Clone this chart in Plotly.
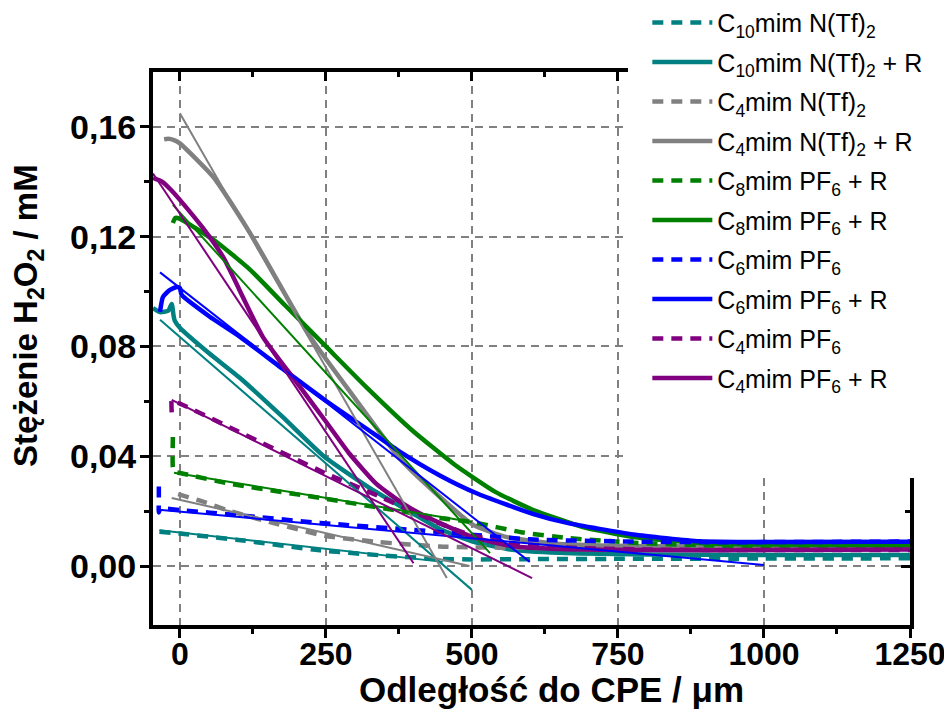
import plotly.graph_objects as go

# ---------------- data ----------------
# x: distance to CPE / um ; y: H2O2 concentration / mM
names = ["C<sub>10</sub>mim N(Tf)<sub>2</sub>",
         "C<sub>10</sub>mim N(Tf)<sub>2</sub> + R",
         "C<sub>4</sub>mim N(Tf)<sub>2</sub>",
         "C<sub>4</sub>mim N(Tf)<sub>2</sub> + R",
         "C<sub>8</sub>mim PF<sub>6</sub> + R",
         "C<sub>8</sub>mim PF<sub>6</sub> + R",
         "C<sub>6</sub>mim PF<sub>6</sub>",
         "C<sub>6</sub>mim PF<sub>6</sub> + R",
         "C<sub>4</sub>mim PF<sub>6</sub>",
         "C<sub>4</sub>mim PF<sub>6</sub> + R"]

x_c10 = [-35, 0, 100, 240, 350, 445, 500, 600, 750, 1000, 1250]
y_c10 = [0.0125, 0.0118, 0.0095, 0.0057, 0.0038, 0.0026, 0.0024, 0.0025, 0.0026, 0.0027, 0.0028]
fx_c10 = [-35, 450]
fy_c10 = [0.0130, 0.0015]

x_c10r = [-46, -34, -20, -14, -11, -9, 0, 50, 103, 175, 248, 330, 400, 445, 500, 560, 650, 800, 1000, 1250]
y_c10r = [0.0940, 0.0925, 0.0930, 0.0955, 0.0915, 0.0895, 0.0868, 0.0775, 0.0685, 0.0545, 0.0397, 0.0277, 0.0190, 0.0135, 0.0090, 0.0062, 0.0048, 0.0042, 0.0040, 0.0040]
fx_c10r = [-34, 500]
fy_c10r = [0.0897, -0.0087]

x_c4n = [-3, 46, 80, 159, 248, 342, 445, 500, 600, 800, 1000, 1250]
y_c4n = [0.0262, 0.0230, 0.0204, 0.0157, 0.0110, 0.0087, 0.0071, 0.0068, 0.0066, 0.0065, 0.0065, 0.0065]
fx_c4n = [-14, 496]
fy_c4n = [0.0248, 0.0000]

x_c4nr = [-27, -20, -10, 0, 57, 120, 223, 300, 377, 433, 502, 560, 650, 800, 1000, 1250]
y_c4nr = [0.1555, 0.1557, 0.1552, 0.1540, 0.1418, 0.1214, 0.0835, 0.0610, 0.0390, 0.0275, 0.0150, 0.0105, 0.0080, 0.0072, 0.0070, 0.0070]
fx_c4nr = [0, 457]
fy_c4nr = [0.1650, -0.0044]

x_c8 = [-12, -12, -9, 0, 85, 240, 377, 445, 500, 587, 663, 776, 900, 1000, 1250]
y_c8 = [0.0470, 0.0360, 0.0343, 0.0339, 0.0300, 0.0248, 0.0200, 0.0175, 0.0160, 0.0122, 0.0102, 0.0085, 0.0075, 0.0072, 0.0070]
fx_c8 = [-10, 500]
fy_c8 = [0.0340, 0.0160]

x_c8r = [-12, -8, 0, 60, 120, 180, 250, 320, 400, 470, 540, 604, 690, 776, 890, 1000, 1250]
y_c8r = [0.1250, 0.1268, 0.1265, 0.1185, 0.1080, 0.0950, 0.0800, 0.0650, 0.0490, 0.0370, 0.0270, 0.0205, 0.0142, 0.0106, 0.0084, 0.0078, 0.0076]
fx_c8r = [-12, 531]
fy_c8r = [0.1316, 0.0047]

x_c6 = [-36, -36, -36, -34, -30, 0, 100, 240, 445, 599, 776, 890, 1000, 1250]
y_c6 = [0.0290, 0.0255, 0.0195, 0.0208, 0.0210, 0.0204, 0.0185, 0.0157, 0.0124, 0.0097, 0.0089, 0.0087, 0.0087, 0.0089]
fx_c6 = [-36, 1000]
fy_c6 = [0.0205, 0.0004]

x_c6r = [-34, -29, -17, -5, 0, 3, 50, 103, 175, 248, 330, 377, 445, 508, 604, 663, 776, 890, 1000, 1250]
y_c6r = [0.0926, 0.0980, 0.1006, 0.1017, 0.1013, 0.0988, 0.0910, 0.0835, 0.0720, 0.0605, 0.0485, 0.0416, 0.0330, 0.0265, 0.0190, 0.0157, 0.0115, 0.0090, 0.0087, 0.0088]
fx_c6r = [-34, 599]
fy_c6r = [0.1070, 0.0015]

x_c4p = [-14, -14, -10, 0, 100, 248, 340, 445, 500, 560, 650, 800, 1000, 1250]
y_c4p = [0.0560, 0.0605, 0.0598, 0.0592, 0.0490, 0.0339, 0.0255, 0.0155, 0.0112, 0.0085, 0.0068, 0.0060, 0.0058, 0.0058]
fx_c4p = [-14, 603]
fy_c4p = [0.0605, -0.0044]

x_c4pr = [-46, -30, -15, 0, 40, 74, 142, 200, 248, 290, 336, 380, 416, 500, 570, 650, 800, 1000, 1250]
y_c4pr = [0.1414, 0.1400, 0.1370, 0.1334, 0.1230, 0.1126, 0.0835, 0.0669, 0.0532, 0.0410, 0.0300, 0.0230, 0.0186, 0.0106, 0.0072, 0.0062, 0.0058, 0.0058, 0.0060]
fx_c4pr = [-46, 400]
fy_c4pr = [0.1430, 0.0010]

x_ticks = [0, 250, 500, 750, 1000, 1250]
y_ticks = [0.00, 0.04, 0.08, 0.12, 0.16]

# ---------------- styling ----------------
TEAL, GRAY, GREEN, BLUE, PURPLE = "#008080", "#808080", "#008000", "#0000FF", "#800080"
DASH = "11px,8px"
series = [
    (names[0], TEAL, DASH, x_c10, y_c10, fx_c10, fy_c10),
    (names[1], TEAL, "solid", x_c10r, y_c10r, fx_c10r, fy_c10r),
    (names[2], GRAY, DASH, x_c4n, y_c4n, fx_c4n, fy_c4n),
    (names[3], GRAY, "solid", x_c4nr, y_c4nr, fx_c4nr, fy_c4nr),
    (names[4], GREEN, DASH, x_c8, y_c8, fx_c8, fy_c8),
    (names[5], GREEN, "solid", x_c8r, y_c8r, fx_c8r, fy_c8r),
    (names[6], BLUE, DASH, x_c6, y_c6, fx_c6, fy_c6),
    (names[7], BLUE, "solid", x_c6r, y_c6r, fx_c6r, fy_c6r),
    (names[8], PURPLE, DASH, x_c4p, y_c4p, fx_c4p, fy_c4p),
    (names[9], PURPLE, "solid", x_c4pr, y_c4pr, fx_c4pr, fy_c4pr),
]

fig = go.Figure()
for i, (nm, col, dash, xs, ys, fx, fy) in enumerate(series):
    fig.add_trace(go.Scatter(x=xs, y=ys, mode="lines", name=nm, legendgroup=f"g{i}",
                             line=dict(color=col, width=4.5, dash=dash, shape="spline",
                                       smoothing=0.5)))
for i, (nm, col, dash, xs, ys, fx, fy) in enumerate(series):
    fig.add_trace(go.Scatter(x=fx, y=fy, mode="lines", legendgroup=f"g{i}", showlegend=False,
                             line=dict(color=col, width=2)))
# helper trace so the mirrored (top/right) axes are drawn
fig.add_trace(go.Scatter(x=[None], y=[None], xaxis="x2", yaxis="y2", showlegend=False,
                         hoverinfo="skip"))

FONT = "Liberation Sans, Arial, sans-serif"
XR = [-46, 1250]
YR = [-0.0215, 0.18]
common_x = dict(range=XR, tickvals=x_ticks, showline=True, linewidth=4, linecolor="black",
                ticklen=9, tickwidth=3, tickcolor="black", zeroline=False,
                minor=dict(tickvals=[125, 375, 625, 875, 1125], ticklen=5, tickwidth=3,
                           tickcolor="black"))
common_y = dict(range=YR, tickvals=y_ticks, showline=True, linewidth=4, linecolor="black",
                ticklen=9, tickwidth=3, tickcolor="black", zeroline=False,
                minor=dict(tickvals=[0.02, 0.06, 0.10, 0.14], ticklen=5, tickwidth=3,
                           tickcolor="black"))

fig.update_layout(
    width=952, height=715,
    margin=dict(l=145, r=50, t=64, b=98, autoexpand=False),
    paper_bgcolor="white", plot_bgcolor="white",
    separators=",.",
    font=dict(family=FONT, color="black"),
    xaxis=dict(**common_x, ticks="outside", showgrid=True, gridcolor="#808080", gridwidth=1.5,
               griddash="8px,6px", tickfont=dict(family=FONT, size=32, weight="bold"),
               minor_ticks="outside"),
    yaxis=dict(**common_y, ticks="outside", showgrid=True, gridcolor="#808080", gridwidth=1.5,
               griddash="8px,6px", tickformat=".2f",
               tickfont=dict(family=FONT, size=34, weight="bold"), minor_ticks="outside"),
    xaxis2=dict(**common_x, overlaying="x", side="top", anchor="y2", ticks="inside",
                showticklabels=False, showgrid=False, minor_ticks="inside"),
    yaxis2=dict(**common_y, overlaying="y", side="right", anchor="x2", ticks="inside",
                showticklabels=False, showgrid=False, minor_ticks="inside"),
    legend=dict(x=0.653, y=1.1305, xanchor="left", yanchor="top", bgcolor="rgba(0,0,0,0)",
                font=dict(family=FONT, size=25, color="black"), itemwidth=60,
                traceorder="grouped", tracegroupgap=4),
    showlegend=True,
    shapes=[dict(type="rect", xref="paper", yref="paper", x0=0.6275, x1=1.1, y0=0.266, y1=1.2,
                 fillcolor="white", line=dict(width=0), layer="above")],
    annotations=[
        dict(text="Odległość do CPE / μm", xref="paper", yref="paper", x=0.526, y=-0.116,
             showarrow=False, xanchor="center", yanchor="middle",
             font=dict(family=FONT, size=35, weight="bold", color="black")),
        dict(text="Stężenie H<sub>2</sub>O<sub>2</sub> / mM", xref="paper", yref="paper",
             x=-0.165, y=0.559, textangle=-90, showarrow=False, xanchor="center",
             yanchor="middle", font=dict(family=FONT, size=33, weight="bold", color="black")),
    ],
)
try:
    fig.update_layout(legend_maxheight=560)
except Exception:
    pass
try:
    fig.layout.xaxis.ticklabelstandoff = -11
except Exception:
    pass
try:
    fig.layout.yaxis.ticklabelstandoff = -3
except Exception:
    fig.layout.yaxis.ticklabelstandoff = 0

fig.write_html("out.html")
